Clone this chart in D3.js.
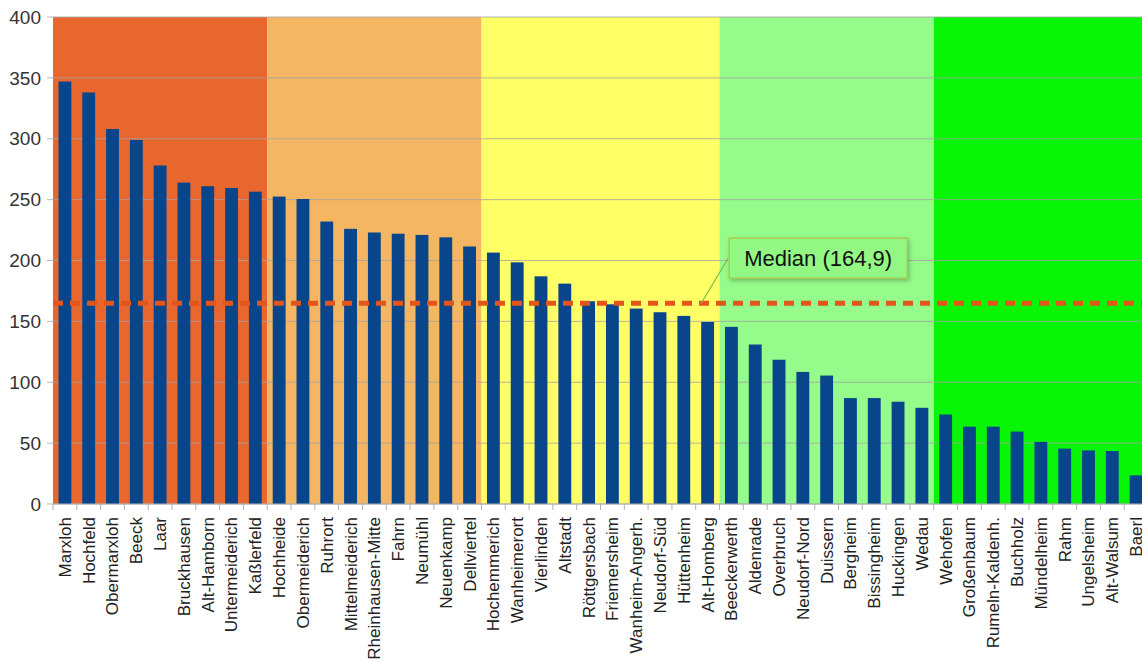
<!DOCTYPE html>
<html>
<head>
<meta charset="utf-8">
<script src="https://cdn.jsdelivr.net/npm/d3@7"></script>
<style>
  body { margin: 0; background: #fff; }
  svg { display: block; font-family: "Liberation Sans", Arial, sans-serif; }
</style>
</head>
<body>
<svg id="drawing_region"></svg>
<script>
const categories = ["Marxloh", "Hochfeld", "Obermarxloh", "Beeck", "Laar", "Bruckhausen", "Alt-Hamborn",
    "Untermeiderich", "Kaßlerfeld", "Hochheide", "Obermeiderich", "Ruhrort", "Mittelmeiderich",
    "Rheinhausen-Mitte", "Fahrn", "Neumühl", "Neuenkamp", "Dellviertel", "Hochemmerich", "Wanheimerort",
    "Vierlinden", "Altstadt", "Röttgersbach", "Friemersheim", "Wanheim-Angerh.", "Neudorf-Süd",
    "Hüttenheim", "Alt-Homberg", "Beeckerwerth", "Aldenrade", "Overbruch", "Neudorf-Nord", "Duissern",
    "Bergheim", "Bissingheim", "Huckingen", "Wedau", "Wehofen", "Großenbaum", "Rumeln-Kaldenh.",
    "Buchholz", "Mündelheim", "Rahm", "Ungelsheim", "Alt-Walsum", "Baerl"];

const values = [347, 338, 308, 299, 278, 264, 261, 259.5, 256.5, 252.5, 250.5, 232, 226, 223, 222, 221,
    219, 211.5, 206.5, 198.5, 187, 181, 166.5, 164, 160.5, 157.5, 154.5, 149.5, 145.5, 131, 118.5, 108.5,
    105.5, 87, 87, 84, 79, 73.5, 63.5, 63.5, 59.5, 51, 45.5, 44, 43.5, 23.5];

// colour zones: number of districts in each zone
const groupSizes = [9, 9, 10, 9, 9];
const groupColors = ["#e8672f", "#f4b663", "#ffff66", "#95fb8a", "#08f508"];

const median = 164.9;
const medianLabel = "Median (164,9)";
const yTicks = [0, 50, 100, 150, 200, 250, 300, 350, 400];

const width = 1142, height = 662;
const margin = { top: 17, left: 53, bottom: 158 };
const plotRight = 1148;   // plot runs slightly past the window edge

const svg = d3.select('#drawing_region')
    .attr('width', width)
    .attr('height', height);

const xscale = d3.scaleBand()
    .domain(categories)
    .range([margin.left, plotRight])
    .paddingInner(0.46)
    .paddingOuter(0.23);

const yscale = d3.scaleLinear()
    .domain([0, 400])
    .range([height - margin.bottom, margin.top]);

const step = xscale.step();
const bandStart = c => xscale(c) - step * 0.23;

// background zones
let idx = 0;
const groups = groupSizes.map((n, i) => {
    const g = { first: categories[idx], last: categories[idx + n - 1], color: groupColors[i] };
    idx += n;
    return g;
});

svg.append('g').selectAll('rect').data(groups).enter()
    .append('rect')
    .attr('x', d => bandStart(d.first))
    .attr('width', d => bandStart(d.last) + step - bandStart(d.first))
    .attr('y', yscale(400))
    .attr('height', yscale(0) - yscale(400))
    .attr('fill', d => d.color);

// grid
svg.append('g').selectAll('line').data(yTicks).enter()
    .append('line')
    .attr('x1', margin.left - 6)
    .attr('x2', plotRight)
    .attr('y1', d => yscale(d))
    .attr('y2', d => yscale(d))
    .attr('stroke', '#a4a4a4')
    .attr('stroke-opacity', 0.8)
    .attr('stroke-width', 1);

// y labels
svg.append('g').selectAll('text').data(yTicks).enter()
    .append('text')
    .attr('x', 41)
    .attr('y', d => yscale(d))
    .attr('dy', '0.35em')
    .attr('text-anchor', 'end')
    .attr('font-size', 19)
    .attr('fill', '#333')
    .text(d => d);

// bars
svg.append('g').selectAll('rect').data(values).enter()
    .append('rect')
    .attr('x', (d, i) => xscale(categories[i]))
    .attr('width', xscale.bandwidth())
    .attr('y', d => yscale(d))
    .attr('height', d => yscale(0) - yscale(d))
    .attr('fill', '#08458b');

// x axis ticks at band boundaries
const boundaries = categories.map(bandStart);
svg.append('g').selectAll('line').data(boundaries).enter()
    .append('line')
    .attr('x1', d => d).attr('x2', d => d)
    .attr('y1', yscale(0)).attr('y2', yscale(0) + 6)
    .attr('stroke', '#b0b0b0');

svg.append('line')
    .attr('x1', margin.left).attr('x2', plotRight)
    .attr('y1', yscale(0)).attr('y2', yscale(0))
    .attr('stroke', '#b0b0b0');

// x labels
svg.append('g').selectAll('text').data(categories).enter()
    .append('text')
    .attr('transform', d => `translate(${xscale(d) + xscale.bandwidth() / 2}, ${yscale(0) + 13}) rotate(-90)`)
    .attr('dy', '0.35em')
    .attr('text-anchor', 'end')
    .attr('font-size', 17)
    .attr('fill', '#222')
    .text(d => d);

// median line
svg.append('line')
    .attr('x1', margin.left).attr('x2', plotRight)
    .attr('y1', yscale(median)).attr('y2', yscale(median))
    .attr('stroke', '#e2561c')
    .attr('stroke-width', 5)
    .attr('stroke-dasharray', '10,7');

// callout
const ax = xscale("Alt-Homberg");
const ay = yscale(median);
const defs = svg.append('defs');
const f = defs.append('filter').attr('id', 'shadow').attr('x', '-10%').attr('y', '-20%').attr('width', '130%').attr('height', '160%');
f.append('feDropShadow').attr('dx', 1.5).attr('dy', 2).attr('stdDeviation', 2).attr('flood-color', '#000').attr('flood-opacity', 0.25);

svg.append('line')
    .attr('x1', ax).attr('y1', ay)
    .attr('x2', ax + 27).attr('y2', ay - 45)
    .attr('stroke', '#77c047')
    .attr('stroke-width', 1.2);

svg.append('rect')
    .attr('x', ax + 28).attr('y', ay - 65)
    .attr('width', 178).attr('height', 40)
    .attr('fill', '#92f783')
    .attr('stroke', '#a9cb4e')
    .attr('stroke-width', 1.5)
    .attr('filter', 'url(#shadow)');

svg.append('text')
    .attr('x', ax + 28 + 89).attr('y', ay - 45)
    .attr('dy', '0.35em')
    .attr('text-anchor', 'middle')
    .attr('font-size', 22)
    .attr('fill', '#111')
    .text(medianLabel);
</script>
</body>
</html>
